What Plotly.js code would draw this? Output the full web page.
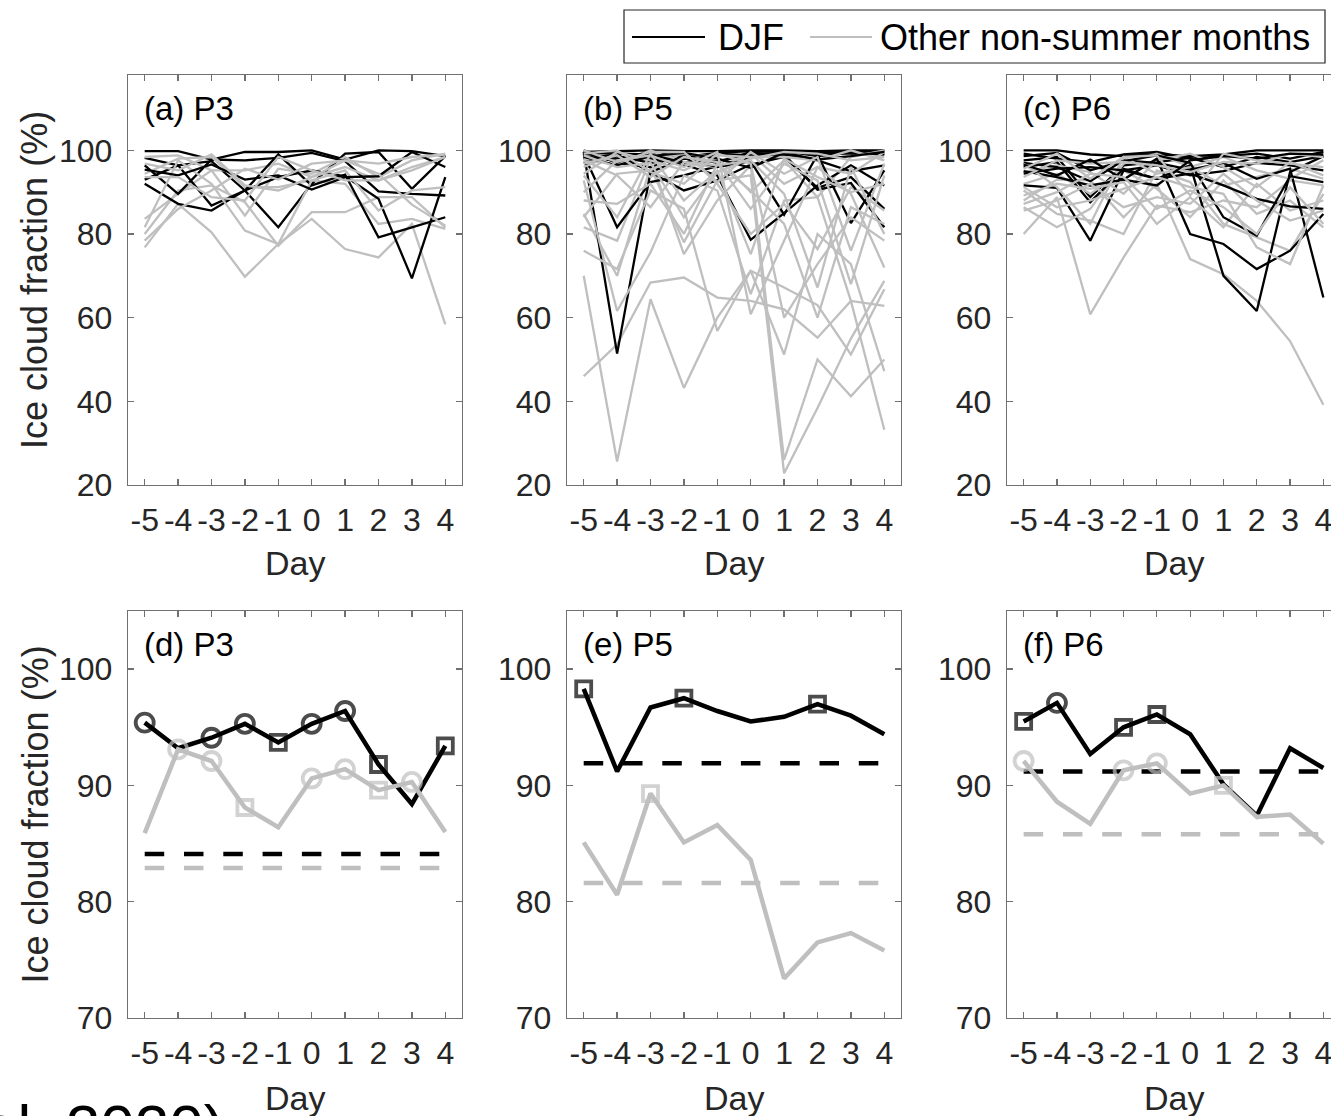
<!DOCTYPE html>
<html>
<head>
<meta charset="utf-8">
<script src="https://cdn.plot.ly/plotly-3.0.1.min.js"></script>
<style>html,body{margin:0;padding:0;background:#fff;}#chart{width:1331px;height:1116px;}</style>
</head>
<body>
<div id="chart"></div>
<script>
// ---------------- DATA ----------------
const days = [-5, -4, -3, -2, -1, 0, 1, 2, 3, 4];
const dayLabels = ['-5', '-4', '-3', '-2', '-1', '0', '1', '2', '3', '4'];
const topTicks = [20, 40, 60, 80, 100];
const bottomTicks = [70, 80, 90, 100];

// (a) P3 individual cases
const p3DJF = [
  [99.8, 99.8, 97.8, 99.6, 99.6, 100, 97.8, 100, 99.8, 98.6],
  [98.2, 96.4, 97.4, 90.4, 81.6, 92.0, 99.2, 99.6, 90.8, 98.6],
  [96.4, 89.6, 97.8, 97.6, 98.2, 99.4, 97.4, 90.2, 89.6, 89.2],
  [93.0, 96.4, 86.8, 90.4, 93.6, 95.2, 93.8, 88.4, 69.4, 93.6],
  [92.0, 87.2, 85.6, 90.4, 99.0, 91.6, 94.2, 79.2, 81.6, 84.0],
  [95.4, 94.0, 96.6, 93.0, 94.0, 90.6, 93.6, 93.8, 99.6, 96.0]
];
const p3Other = [
  [76.8, 87.2, 80.4, 69.8, 77.6, 83.6, 76.4, 74.4, 82.4, 58.4],
  [80.0, 90.4, 91.6, 87.6, 77.2, 85.2, 85.2, 88.8, 88.8, 81.6],
  [83.6, 89.6, 95.2, 84.4, 95.6, 94.4, 98.4, 93.6, 97.6, 99.2],
  [94.4, 98.0, 98.4, 91.2, 91.2, 92.8, 92.0, 82.4, 83.6, 81.2],
  [98.4, 98.8, 95.2, 95.2, 96.8, 93.6, 96.0, 92.8, 96.0, 98.4],
  [81.6, 97.6, 92.0, 80.8, 77.6, 92.8, 95.2, 85.6, 90.4, 91.2],
  [93.6, 93.6, 88.8, 88.0, 98.4, 95.2, 92.8, 92.8, 95.2, 98.4],
  [78.4, 86.0, 90.4, 95.6, 93.0, 96.8, 97.6, 94.4, 87.0, 82.0],
  [96.8, 95.2, 99.0, 91.6, 90.4, 93.6, 97.6, 96.8, 98.4, 99.0]
];

// (b) P5 individual cases
const p5DJF = [
  [99.6, 99.8, 100, 99.8, 99.8, 100, 100, 99.8, 100, 100],
  [99.2, 98.0, 99.6, 98.4, 99.4, 99.8, 99.6, 99.2, 99.8, 99.8],
  [100, 97.0, 96.0, 98.6, 97.0, 99.6, 99.8, 98.6, 99.4, 99.0],
  [99.6, 51.4, 94.8, 98.0, 97.4, 99.0, 99.4, 99.6, 99.2, 99.2],
  [99.0, 81.6, 92.4, 94.0, 96.2, 98.2, 99.0, 97.6, 95.0, 96.4],
  [98.0, 99.0, 94.8, 90.4, 92.8, 96.6, 98.4, 91.0, 93.6, 86.0],
  [98.6, 97.4, 98.0, 96.6, 94.0, 78.6, 85.0, 91.6, 96.4, 91.6],
  [97.0, 98.6, 97.0, 98.2, 96.0, 97.4, 84.6, 99.0, 82.6, 95.2],
  [99.4, 99.2, 99.0, 97.0, 99.2, 98.8, 99.0, 90.6, 92.2, 81.6],
  [98.4, 96.4, 98.6, 99.4, 98.0, 95.8, 99.4, 97.8, 98.6, 99.6]
];
const p5Other = [
  [46.0, 53.6, 68.4, 69.6, 64.8, 64.0, 62.0, 55.2, 64.0, 62.8],
  [70.0, 25.6, 64.4, 43.2, 60.0, 71.2, 67.2, 63.0, 51.2, 66.8],
  [84.8, 70.0, 96.0, 78.0, 92.8, 94.0, 22.8, 38.4, 55.0, 68.8],
  [81.6, 78.4, 98.0, 75.2, 88.0, 96.4, 26.0, 50.0, 41.2, 50.0],
  [76.0, 71.6, 90.4, 86.0, 56.8, 71.2, 51.2, 80.0, 72.8, 47.2],
  [92.8, 61.6, 75.6, 94.0, 90.4, 65.6, 88.0, 88.8, 64.0, 33.2],
  [96.0, 99.2, 98.0, 99.2, 98.4, 90.0, 97.6, 88.8, 98.4, 100],
  [98.0, 96.4, 100, 96.8, 96.0, 99.2, 92.0, 96.0, 94.4, 99.6],
  [84.0, 94.4, 95.2, 99.6, 92.0, 80.0, 87.2, 76.4, 91.2, 85.6],
  [94.4, 99.6, 97.6, 95.2, 98.8, 98.4, 98.4, 97.6, 100, 97.6],
  [97.6, 94.0, 86.4, 97.2, 96.4, 97.6, 89.6, 67.2, 96.0, 80.0],
  [94.0, 84.0, 99.2, 88.0, 95.2, 75.2, 98.0, 93.6, 90.0, 92.0],
  [99.2, 100, 94.8, 92.0, 99.2, 96.8, 60.0, 72.8, 84.0, 78.4],
  [100, 97.2, 99.6, 99.6, 92.4, 99.6, 94.4, 98.4, 76.0, 96.8],
  [88.0, 87.2, 92.0, 80.0, 96.8, 90.4, 82.4, 60.0, 86.4, 82.4],
  [96.8, 98.8, 93.6, 98.4, 97.2, 86.0, 96.8, 92.8, 68.0, 94.0],
  [90.0, 97.6, 98.8, 96.0, 99.6, 60.8, 78.4, 96.0, 89.6, 72.0],
  [98.8, 96.0, 97.0, 84.0, 94.8, 98.0, 99.6, 99.2, 97.6, 98.4]
];

// (c) P6 individual cases
const p6DJF = [
  [100, 100, 99.0, 98.6, 99.0, 98.6, 99.0, 100, 100, 100],
  [99.2, 98.0, 97.2, 99.0, 99.6, 98.0, 98.6, 99.2, 98.0, 99.6],
  [97.6, 98.4, 88.8, 96.4, 97.2, 98.2, 96.0, 98.4, 97.2, 98.6],
  [91.6, 91.0, 78.4, 95.2, 96.4, 94.0, 95.0, 97.0, 96.4, 95.2],
  [96.0, 97.2, 87.6, 95.6, 93.2, 96.4, 70.0, 61.6, 94.8, 98.6],
  [95.0, 93.6, 91.6, 93.0, 98.0, 80.0, 77.6, 71.6, 76.0, 84.8],
  [97.0, 96.0, 92.6, 97.6, 97.0, 95.4, 97.0, 93.2, 95.6, 64.8],
  [94.4, 95.6, 96.0, 95.2, 93.2, 94.4, 91.6, 88.4, 86.6, 86.0],
  [98.6, 99.4, 95.2, 97.4, 98.8, 97.0, 84.0, 79.6, 93.8, 92.4],
  [96.6, 94.0, 97.8, 93.0, 91.6, 97.6, 98.6, 98.0, 99.2, 99.0]
];
const p6Other = [
  [88.0, 93.0, 92.8, 84.0, 92.0, 74.0, 70.4, 64.0, 54.4, 39.2],
  [80.0, 88.8, 60.8, 74.4, 86.8, 85.2, 88.0, 86.4, 92.8, 91.6],
  [90.4, 84.8, 83.2, 80.0, 95.2, 92.4, 82.4, 79.2, 76.0, 89.6],
  [92.0, 94.4, 89.6, 95.2, 90.8, 84.0, 92.8, 84.8, 88.0, 81.6],
  [86.4, 81.6, 86.0, 96.8, 99.2, 96.0, 91.6, 93.6, 95.6, 93.2],
  [94.8, 96.4, 94.8, 89.6, 97.6, 99.2, 96.0, 91.2, 97.2, 94.0],
  [89.2, 92.0, 90.8, 92.4, 82.4, 88.8, 81.6, 92.0, 85.6, 88.0],
  [96.8, 91.2, 82.4, 98.4, 94.4, 96.0, 98.4, 95.2, 93.2, 97.6],
  [85.6, 88.0, 92.0, 86.4, 88.8, 87.2, 94.4, 88.0, 83.2, 85.6],
  [93.6, 97.6, 96.8, 97.2, 96.4, 94.8, 97.2, 96.8, 99.2, 98.4],
  [91.2, 86.4, 88.0, 90.8, 93.6, 91.2, 89.6, 76.8, 72.8, 91.6],
  [87.2, 90.0, 94.4, 93.6, 86.0, 90.4, 86.4, 80.0, 91.2, 82.4],
  [95.6, 99.2, 93.2, 98.4, 98.8, 89.2, 99.2, 97.6, 96.8, 96.0]
];

// (d)-(f) composite means, markers ('o' circle, 's' square, '' none) and overall means
const p3MeanDJF   = [95.4, 93.2, 94.1, 95.3, 93.7, 95.3, 96.4, 91.8, 88.4, 93.4];
const p3MeanOther = [85.9, 93.1, 92.1, 88.1, 86.4, 90.6, 91.4, 89.6, 90.3, 86.0];
const p3MarkDJF   = ['o', '', 'o', 'o', 's', 'o', 'o', 's', '', 's'];
const p3MarkOther = ['', 'o', 'o', 's', '', 'o', 'o', 's', 'o', ''];
const p3AvgDJF = 84.1, p3AvgOther = 82.9;

const p5MeanDJF   = [98.3, 91.2, 96.7, 97.5, 96.4, 95.5, 95.9, 97.0, 96.0, 94.4];
const p5MeanOther = [85.1, 80.6, 89.3, 85.1, 86.6, 83.6, 73.4, 76.5, 77.3, 75.8];
const p5MarkDJF   = ['s', '', '', 's', '', '', '', 's', '', ''];
const p5MarkOther = ['', '', 's', '', '', '', '', '', '', ''];
const p5AvgDJF = 91.9, p5AvgOther = 81.6;

const p6MeanDJF   = [95.5, 97.1, 92.7, 95.0, 96.1, 94.4, 90.1, 87.4, 93.2, 91.5];
const p6MeanOther = [92.1, 88.6, 86.7, 91.3, 91.9, 89.3, 90.0, 87.3, 87.5, 85.0];
const p6MarkDJF   = ['s', 'o', '', 's', 's', '', '', '', '', ''];
const p6MarkOther = ['o', '', '', 'o', 'o', '', 's', '', '', ''];
const p6AvgDJF = 91.2, p6AvgOther = 85.8;

const legendNames = ['DJF', 'Other non-summer months'];
const panelLabels = ['(a) P3', '(b) P5', '(c) P6', '(d) P3', '(e) P5', '(f) P6'];

// ---------------- STYLE / LAYOUT ----------------
const W = 1331, H = 1116;
const BLACK = '#000000', GRAY = '#bfbfbf';
const FONT = 'Liberation Sans, Arial, Helvetica, sans-serif';
const colL = [128, 567, 1007], colR = [462, 901, 1340];
const rowT = [75, 611], rowB = [485, 1018];
const px = p => p / W, py = p => 1 - p / H;

const traces = [];
function spaghetti(ax, djf, other) {
  const n = Math.max(djf.length, other.length);
  for (let i = 0; i < n; i++) {
    if (i < other.length) traces.push({x: days, y: other[i], xaxis: 'x' + ax, yaxis: 'y' + ax, mode: 'lines',
      line: {color: GRAY, width: 2.3}, hoverinfo: 'skip', showlegend: false});
    if (i < djf.length) traces.push({x: days, y: djf[i], xaxis: 'x' + ax, yaxis: 'y' + ax, mode: 'lines',
      line: {color: BLACK, width: 2.3}, hoverinfo: 'skip', showlegend: false});
  }
}
spaghetti('', p3DJF, p3Other);
spaghetti('2', p5DJF, p5Other);
spaghetti('3', p6DJF, p6Other);

function means(ax, mD, mO, kD, kO, aD, aO) {
  const xa = 'x' + ax, ya = 'y' + ax;
  const dash = '19.5px,19.8px';
  traces.push({x: [days[0], days[days.length - 1]], y: [aD, aD], xaxis: xa, yaxis: ya, mode: 'lines',
    line: {color: BLACK, width: 4.5, dash: dash}, showlegend: false, hoverinfo: 'skip'});
  traces.push({x: [days[0], days[days.length - 1]], y: [aO, aO], xaxis: xa, yaxis: ya, mode: 'lines',
    line: {color: GRAY, width: 4.5, dash: dash}, showlegend: false, hoverinfo: 'skip'});
  traces.push({x: days, y: mD, xaxis: xa, yaxis: ya, mode: 'lines', line: {color: BLACK, width: 4.5}, showlegend: false});
  traces.push({x: days, y: mO, xaxis: xa, yaxis: ya, mode: 'lines', line: {color: GRAY, width: 4.5}, showlegend: false});
  [[mD, kD, BLACK], [mO, kO, GRAY]].forEach(([m, k, c]) => {
    const xs = [], ys = [], sym = [], sz = [];
    k.forEach((t, i) => { if (t) { xs.push(days[i]); ys.push(m[i]); sym.push(t === 'o' ? 'circle-open' : 'square-open'); sz.push(t === 'o' ? 18 : 15); } });
    traces.push({x: xs, y: ys, xaxis: xa, yaxis: ya, mode: 'markers',
      marker: {symbol: sym, size: sz, color: c, line: {color: c, width: 3.8}}, showlegend: false});
  });
}
means('4', p3MeanDJF, p3MeanOther, p3MarkDJF, p3MarkOther, p3AvgDJF, p3AvgOther);
means('5', p5MeanDJF, p5MeanOther, p5MarkDJF, p5MarkOther, p5AvgDJF, p5AvgOther);
means('6', p6MeanDJF, p6MeanOther, p6MarkDJF, p6MarkOther, p6AvgDJF, p6AvgOther);

const axCommon = {
  showline: true, linecolor: '#707070', linewidth: 1.3, mirror: 'ticks',
  ticks: 'inside', ticklen: 6, tickwidth: 1.3, tickcolor: '#707070',
  showgrid: false, zeroline: false, fixedrange: true,
  tickfont: {family: FONT, size: 32, color: '#262626'}
};
const layout = {
  width: W, height: H, margin: {l: 0, r: 0, t: 0, b: 0},
  paper_bgcolor: '#ffffff', plot_bgcolor: '#ffffff', showlegend: false,
  font: {family: FONT}, annotations: [], shapes: []
};
for (let r = 0; r < 2; r++) {
  for (let c = 0; c < 3; c++) {
    const k = r * 3 + c + 1, sfx = k === 1 ? '' : String(k);
    const pw = (colR[c] - colL[c]) / 10;
    const xEnd = Math.min(colR[c], W);
    const xr = [-5.5, -5.5 + (xEnd - colL[c]) / pw];
    layout['xaxis' + sfx] = Object.assign({}, axCommon, {
      domain: [px(colL[c]), px(xEnd)], range: xr, anchor: 'y' + sfx,
      tickmode: 'array', tickvals: days, ticktext: dayLabels, tickangle: 0, ticklabelstandoff: 6,
      ticklabeloverflow: 'allow'
    });
    layout['yaxis' + sfx] = Object.assign({}, axCommon, {
      domain: [py(rowB[r]), py(rowT[r])], anchor: 'x' + sfx,
      range: r === 0 ? [20, 118] : [70, 105],
      tickmode: 'array', tickvals: r === 0 ? topTicks : bottomTicks, ticklabelstandoff: 8,
      mirror: c === 2 ? false : 'ticks'
    });
    layout.annotations.push({xref: 'paper', yref: 'paper', x: px(colL[c] + 14), y: py(r === 0 ? 108 : 644),
      xanchor: 'left', yanchor: 'middle', showarrow: false, text: panelLabels[k - 1],
      font: {family: FONT, size: 33, color: '#000'}});
    layout.annotations.push({xref: 'paper', yref: 'paper', x: px((colL[c] + colR[c]) / 2), y: py(r === 0 ? 563 : 1098),
      xanchor: 'center', yanchor: 'middle', showarrow: false, text: 'Day',
      font: {family: FONT, size: 34, color: '#262626'}});
  }
  layout.annotations.push({xref: 'paper', yref: 'paper', x: px(35), y: py((rowT[r] + rowB[r]) / 2),
    xanchor: 'center', yanchor: 'middle', showarrow: false, textangle: -90, text: 'Ice cloud fraction (%)',
    font: {family: FONT, size: 36, color: '#262626'}});
}
// legend drawn in paper coordinates
layout.shapes.push({type: 'rect', xref: 'paper', yref: 'paper', x0: px(624), x1: px(1325), y0: py(63), y1: py(10),
  line: {color: '#262626', width: 1.2}, fillcolor: '#ffffff'});
layout.shapes.push({type: 'line', xref: 'paper', yref: 'paper', x0: px(632), x1: px(705), y0: py(37), y1: py(37),
  line: {color: BLACK, width: 2}});
layout.shapes.push({type: 'line', xref: 'paper', yref: 'paper', x0: px(810), x1: px(872), y0: py(37), y1: py(37),
  line: {color: GRAY, width: 2}});
layout.annotations.push({xref: 'paper', yref: 'paper', x: px(716), y: py(37), xanchor: 'left', yanchor: 'middle',
  showarrow: false, text: legendNames[0], font: {family: FONT, size: 36, color: '#000'}});
layout.annotations.push({xref: 'paper', yref: 'paper', x: px(878), y: py(37), xanchor: 'left', yanchor: 'middle',
  showarrow: false, text: legendNames[1], font: {family: FONT, size: 36, color: '#000'}});
// cropped caption fragment at bottom-left (cut off in the reference as well)
layout.annotations.push({xref: 'paper', yref: 'paper', x: px(-19), y: py(1126), xanchor: 'left', yanchor: 'middle',
  showarrow: false, text: 'al. 2020)', font: {family: FONT, size: 62, color: '#000'}});

Plotly.newPlot('chart', traces, layout, {staticPlot: true, displayModeBar: false});
</script>
</body>
</html>
